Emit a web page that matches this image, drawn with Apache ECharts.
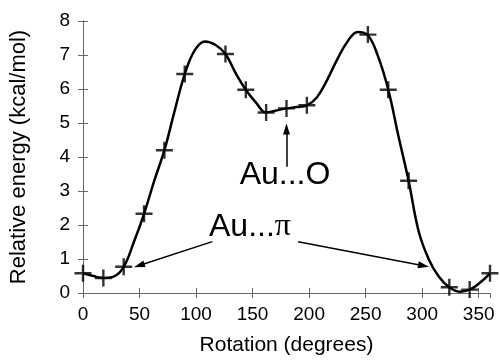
<!DOCTYPE html>
<html>
<head>
<meta charset="utf-8">
<script src="https://cdn.jsdelivr.net/npm/echarts@6/dist/echarts.min.js"></script>
<style>
  html, body { margin: 0; padding: 0; background: #fff; }
  #chart { width: 500px; height: 361px; }
</style>
</head>
<body>
<div id="chart"></div>
<script>
// computed points (the + marks)
var markerX = [0, 18, 36, 54, 72, 90, 126, 144, 162, 180, 198, 252, 270, 288, 324, 342, 360]
var markerY = [0.58, 0.44, 0.77, 2.33, 4.2, 6.44, 7.03, 5.98, 5.31, 5.43, 5.52, 7.6, 5.98, 3.3, 0.17, 0.1, 0.58]

// fitted curve
var curveX = [0, 9, 18, 27, 36, 45, 54, 63, 72, 81, 90, 99, 108, 117, 126, 135, 144, 153, 162, 171, 180,
              189, 198, 207, 216, 225, 234, 243, 252, 261, 270, 279, 288, 297, 306, 315, 324, 333, 342, 351, 360]
var curveY = [0.58, 0.5, 0.44, 0.48, 0.77, 1.5, 2.33, 3.3, 4.2, 5.35, 6.44, 7.15, 7.4, 7.3, 7.03, 6.47, 5.98, 5.6, 5.31, 5.37, 5.43,
              5.47, 5.52, 5.76, 6.27, 6.88, 7.4, 7.68, 7.58, 6.96, 5.98, 4.62, 3.3, 1.8, 0.98, 0.47, 0.17, 0.04, 0.1, 0.3, 0.58]

var xTicks = [0, 50, 100, 150, 200, 250, 300, 350]
var yTicks = [0, 1, 2, 3, 4, 5, 6, 7, 8]

// annotation arrows [x1, y1, x2, y2] in data units, head at the second point
var arrows = [
    [180, 3.71, 180, 4.82],
    [114.4, 1.51, 49.7, 0.81],
    [190.3, 1.51, 301.2, 0.8]
]

function pairs(xs, ys) {
    let out = []
    for (let i = 0; i < xs.length; i++) out.push([xs[i], ys[i]])
    return out
}

let myChart = echarts.init(document.getElementById('chart'))
let frame = { show: true, lineStyle: { color: '#666', width: 1 } }
let tick = { show: true, inside: true, length: 5, lineStyle: { color: '#666' } }
let font = 'Liberation Sans, Arial, sans-serif'

let option = {
    animation: false,
    grid: { left: 82, right: 10, top: 21, bottom: 66 },
    xAxis: [{
        type: 'value', min: 0, max: 360, interval: 50, position: 'bottom',
        name: 'Rotation (degrees)', nameLocation: 'middle', nameGap: 42,
        nameTextStyle: { fontFamily: font, fontSize: 21, color: '#000' },
        axisLine: frame, axisTick: tick, splitLine: { show: false },
        axisLabel: { fontFamily: font, fontSize: 19, color: '#000', margin: 12, showMaxLabel: false,
            formatter: function (v) { return xTicks.indexOf(v) >= 0 ? String(v) : '' } }
    }, {
        type: 'value', min: 0, max: 360, interval: 50, position: 'top',
        axisLine: frame, axisTick: tick, splitLine: { show: false }, axisLabel: { show: false }
    }],
    yAxis: [{
        type: 'value', min: 0, max: 8, interval: 1, position: 'left',
        name: 'Relative energy (kcal/mol)', nameLocation: 'middle', nameGap: 53,
        nameTextStyle: { fontFamily: font, fontSize: 22, color: '#000' },
        axisLine: frame, axisTick: tick, splitLine: { show: false },
        axisLabel: { fontFamily: font, fontSize: 19, color: '#000', margin: 13,
            formatter: function (v) { return yTicks.indexOf(v) >= 0 ? String(v) : '' } }
    }, {
        type: 'value', min: 0, max: 8, interval: 1, position: 'right',
        axisLine: frame, axisTick: tick, splitLine: { show: false }, axisLabel: { show: false }
    }],
    series: [{
        name: 'curve',
        type: 'line',
        data: pairs(curveX, curveY),
        smooth: 0.4,
        symbol: 'none',
        lineStyle: { color: '#000', width: 2.5 },
        z: 2
    }, {
        name: 'points',
        type: 'scatter',
        data: pairs(markerX, markerY),
        symbol: 'path://M0,7.3H17V9.7H0Z M7.3,0H9.7V17H7.3Z',
        symbolSize: 17,
        itemStyle: { color: '#000' },
        z: 3
    }, {
        name: 'arrows',
        type: 'line',
        data: [],
        markLine: {
            silent: true,
            symbol: ['none', 'triangle'],
            symbolSize: [7, 11],
            label: { show: false },
            lineStyle: { color: '#000', width: 1.5, type: 'solid' },
            data: arrows.map(a => [{ coord: [a[0], a[1]] }, { coord: [a[2], a[3]] }])
        }
    }],
    graphic: [{
        type: 'text',
        x: 285, y: 175,
        style: { text: 'Au...O', font: '32px ' + font, fill: '#000', align: 'center', verticalAlign: 'middle' }
    }, {
        type: 'text',
        x: 209, y: 227,
        style: {
            text: '{a|Au...}{b|π}', align: 'left', verticalAlign: 'middle',
            rich: {
                a: { fontFamily: font, fontSize: 32, color: '#000' },
                b: { fontFamily: 'Liberation Serif, Times New Roman, serif', fontSize: 32, color: '#000' }
            }
        }
    }]
};
myChart.setOption(option);
</script>
</body>
</html>
